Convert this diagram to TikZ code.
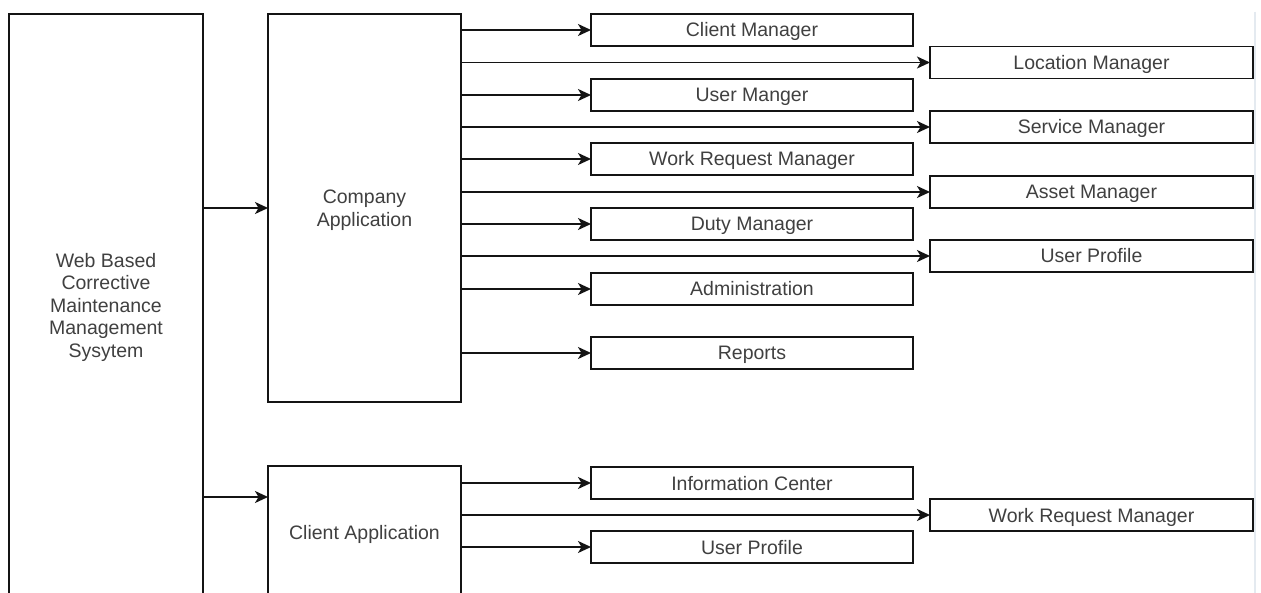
\documentclass[tikz,border=0pt]{standalone}
\usepackage{fontspec}
\setmainfont{Liberation Sans}
\usetikzlibrary{arrows.meta,calc}
\definecolor{txt}{RGB}{64,64,64}
\definecolor{edge}{RGB}{20,20,20}
\definecolor{faint}{RGB}{228,234,240}
\tikzset{
  box/.style={draw=edge, line width=1.6pt, fill=white, inner sep=0pt, outer sep=0pt,
    font=\fontsize{19.5}{22.5}\selectfont, text=txt, align=center},
  onebox/.style={box, text height=14pt, text depth=0pt},
  midbox/.style={onebox, minimum width=322pt, minimum height=32pt},
  rbox/.style={onebox, minimum width=323pt, minimum height=32pt},
  lbl/.style={text=txt, font=\fontsize{19.5}{23.5}\selectfont, align=center, inner sep=0pt},
  arr/.style={draw=edge, line width=1.6pt, -{Stealth[length=13pt,width=12pt,inset=3.5pt]}},
}
\begin{document}
\begin{tikzpicture}[x=1pt,y=-1pt]
\useasboundingbox (0,0) rectangle (1261,593);
\clip (0,0) rectangle (1261,593);
\fill[white] (0,0) rectangle (1261,593);
\draw[faint, line width=1.2pt] (1255,12) -- (1255,593);
% main boxes
\node[box, minimum width=194pt, minimum height=582pt] (sys) at (106,305) {};
\node[lbl, font=\fontsize{19.5}{22.5}\selectfont] (systext) at (106,307)
  {Web Based\\Corrective\\Maintenance\\Management\\Sysytem};
\node[box, minimum width=193pt, minimum height=388pt] (comp) at (364.5,208) {};
\node[lbl] (comptext) at (364.5,210) {Company\\Application};
\node[box, minimum width=193pt, minimum height=132pt] (capp) at (364.5,532) {};
\node[lbl, text height=14pt, text depth=0pt] (capptext) at (364.5,532) {Client Application};
% company modules
\node[midbox] (cm) at (752,30) {Client Manager};
\node[rbox] (lm) at (1091.5,62.5) {Location Manager};
\node[midbox] (um) at (752,95) {User Manger};
\node[rbox] (sm) at (1091.5,127) {Service Manager};
\node[midbox] (wrm) at (752,159) {Work Request Manager};
\node[rbox] (am) at (1091.5,192) {Asset Manager};
\node[midbox] (dm) at (752,224) {Duty Manager};
\node[rbox] (up) at (1091.5,256) {User Profile};
\node[midbox] (adm) at (752,289) {Administration};
\node[midbox] (rep) at (752,353) {Reports};
% client modules
\node[midbox] (ic) at (752,483) {Information Center};
\node[rbox] (cwrm) at (1091.5,515) {Work Request Manager};
\node[midbox] (cup) at (752,547) {User Profile};
% connectors
\draw[arr] (sys.east |- comp.west) -- (comp.west);
\coordinate (cappin) at ($(capp.north west)+(0,31)$);
\draw[arr] (sys.east |- cappin) -- (cappin);
\foreach \t in {cm,lm,um,sm,wrm,am,dm,up,adm,rep}{
  \draw[arr] (comp.east |- \t.west) -- (\t.west);
}
\foreach \t in {ic,cwrm,cup}{
  \draw[arr] (capp.east |- \t.west) -- (\t.west);
}
\end{tikzpicture}
\end{document}
